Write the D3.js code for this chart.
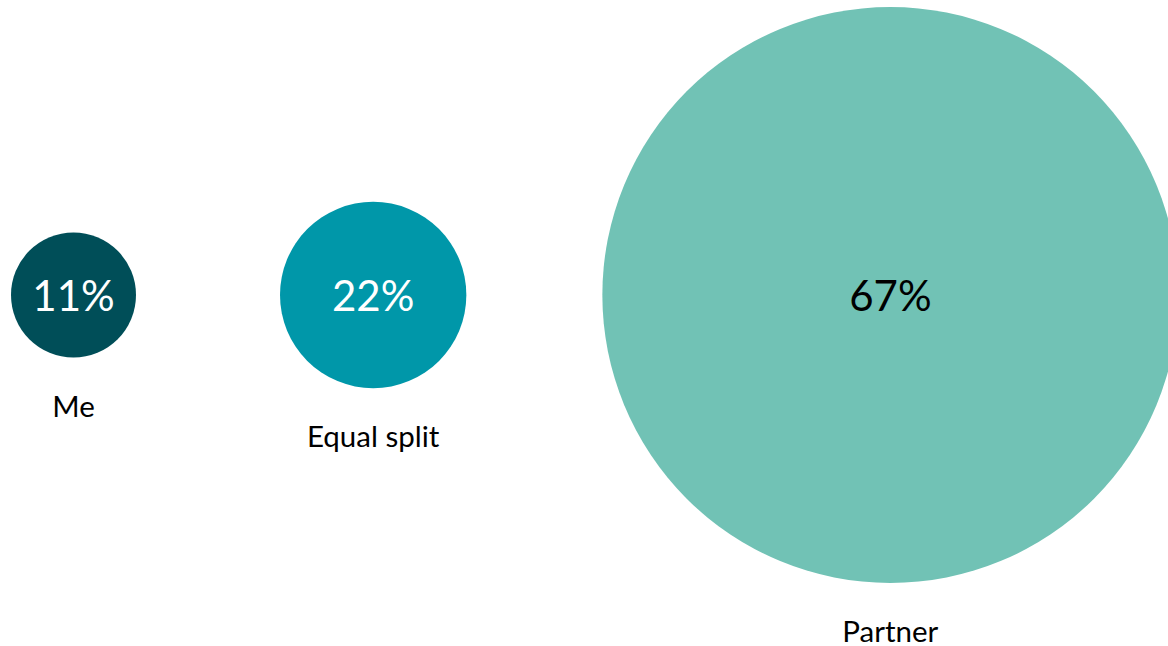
<!DOCTYPE html>
<html>
<head>
<meta charset="utf-8">
<script src="https://cdn.jsdelivr.net/npm/d3@7"></script>
<style>
  body { margin: 0; background: #fff; }
  svg { display: block; font-family: Lato, "Open Sans", sans-serif; }
</style>
</head>
<body>
<div id="chart"></div>
<script>
var categories = ["Me", "Equal split", "Partner"];
var values = [11, 22, 67];
var colors = ["#004e58", "#0097a9", "#71c2b5"];
var textColors = ["#ffffff", "#ffffff", "#000000"];

var WIDTH = 1168, HEIGHT = 646;
var LEFT = 11, GAPS = [144, 136], CY = 295;

var svg = d3.select("#chart").append("svg")
    .attr("width", WIDTH)
    .attr("height", HEIGHT);

// bubble radius
var rscale = d3.scalePow().exponent(1.45)
    .domain(d3.extent(values))
    .range([62.5, 288]);

// place bubbles side by side, gaps between them
var xpos = [];
var cursor = LEFT;
values.forEach(function(v, i){
    var r = rscale(v);
    xpos.push(cursor + r);
    cursor += 2 * r + (GAPS[i] || 0);
});

var bubbles = svg.selectAll("g.bubble")
    .data(values)
    .enter().append("g")
    .attr("class", "bubble")
    .attr("transform", function(d, i){ return "translate(" + xpos[i] + "," + CY + ")"; });

bubbles.append("circle")
    .attr("r", function(d){ return rscale(d); })
    .attr("fill", function(d, i){ return colors[i]; });

bubbles.append("text")
    .attr("text-anchor", "middle")
    .attr("dy", "0.38em")
    .attr("font-size", 42)
    .attr("fill", function(d, i){ return textColors[i]; })
    .text(function(d){ return d + "%"; });

bubbles.append("text")
    .attr("text-anchor", "middle")
    .attr("y", function(d){ return rscale(d) + 59; })
    .attr("font-size", 29.5)
    .attr("fill", "#000")
    .text(function(d, i){ return categories[i]; });
</script>
</body>
</html>
